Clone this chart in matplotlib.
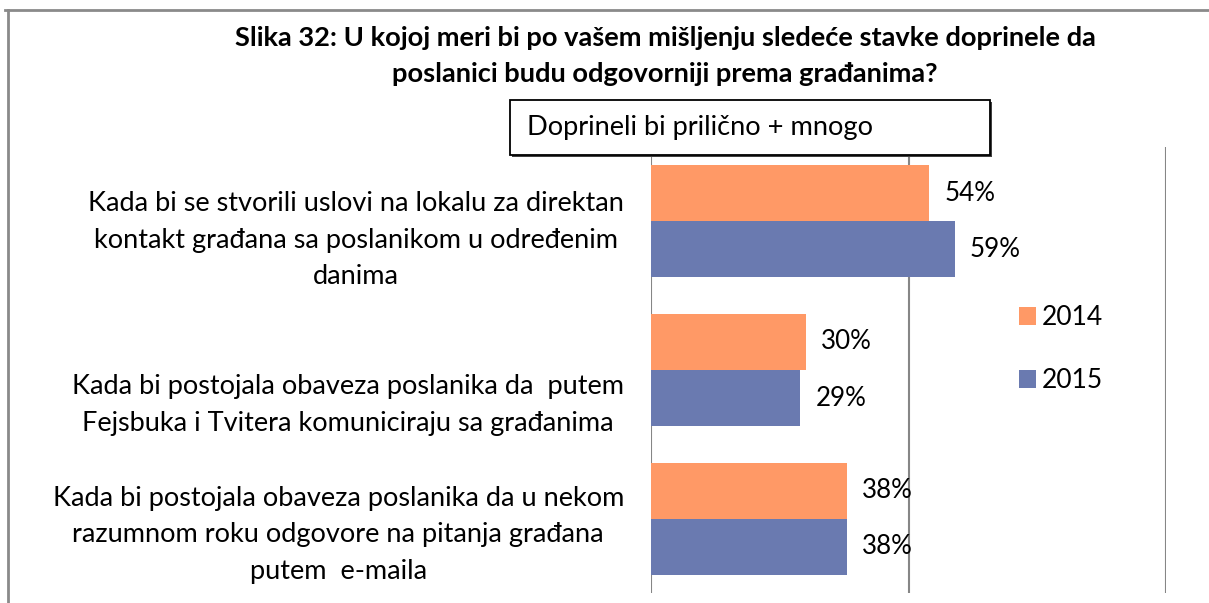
import matplotlib
matplotlib.use("Agg")
import matplotlib.pyplot as plt
from matplotlib.patches import Rectangle, Patch
from matplotlib.lines import Line2D

# ---- data ----
categories = [
    "Kada bi se stvorili uslovi na lokalu za direktan\nkontakt građana sa poslanikom u određenim\ndanima",
    "Kada bi postojala obaveza poslanika da  putem\nFejsbuka i Tvitera komuniciraju sa građanima",
    "Kada bi postojala obaveza poslanika da u nekom\nrazumnom roku odgovore na pitanja građana\nputem  e-maila",
]
series_names = ["2014", "2015"]
values_2014 = [54, 30, 38]
values_2015 = [59, 29, 38]
title = "Slika 32: U kojoj meri bi po vašem mišljenju sledeće stavke doprinele da\nposlanici budu odgovorniji prema građanima?"
box_text = "Doprineli bi prilično + mnogo"
gridlines = [50, 100]

# ---- style ----
W, H = 1209, 603
FONT = "Lato"
C14 = "#FF9966"
C15 = "#6A7AB0"
GRID = "#868686"

plt.rcParams["font.family"] = [FONT, "DejaVu Sans"]

fig = plt.figure(figsize=(W / 100, H / 100), dpi=100)
fig.patch.set_facecolor("white")

def fx(px):
    return px / W

def fy(py):
    return 1 - py / H

ax = fig.add_axes([fx(651), fy(593), fx(1166) - fx(651), fy(147) - fy(593)])
ax.set_xlim(0, 100)
ax.set_ylim(len(categories) - 0.5, -0.5)

h = 0.377
ypos = list(range(len(categories)))
b1 = ax.barh([y - h / 2 for y in ypos], values_2014, height=h, color=C14, label=series_names[0], zorder=2)
b2 = ax.barh([y + h / 2 for y in ypos], values_2015, height=h, color=C15, label=series_names[1], zorder=2)

for bars, vals in ((b1, values_2014), (b2, values_2015)):
    for rect, v in zip(bars, vals):
        ax.annotate(f"{v}%", xy=(rect.get_width(), rect.get_y() + rect.get_height() / 2),
                    xytext=(15, 0), textcoords="offset pixels", ha="left", va="center",
                    fontsize=18.7, color="black", zorder=3)

for g in gridlines:
    ax.axvline(g, color=GRID, lw=1.5, zorder=1)
ax.axvline(0, color=GRID, lw=1.5, zorder=1)

for s in ax.spines.values():
    s.set_visible(False)
ax.set_xticks([])
ax.set_yticks([])

# category labels (positioned left of the axis)
label_offsets = [19, 35, 16]
for i, (lab, off) in enumerate(zip(categories, label_offsets)):
    ax.annotate(lab, xy=(0, i), xycoords=("axes fraction", "data"),
                xytext=(-27, -off), textcoords="offset pixels",
                ha="right", va="center", multialignment="center",
                fontsize=19.5, linespacing=1.57, color="black",
                annotation_clip=False)

# title
fig.text(fx(665), fy(55.5), title, ha="center", va="center", fontsize=19.6,
         fontweight="bold", linespacing=1.6, multialignment="center")

# box with shadow
shadow = Rectangle((fx(512), fy(157)), fx(990) - fx(510), fy(100) - fy(155),
                   transform=fig.transFigure, facecolor="#404040", edgecolor="none", zorder=4)
box = Rectangle((fx(510), fy(155)), fx(990) - fx(510), fy(100) - fy(155),
                transform=fig.transFigure, facecolor="white", edgecolor="black", lw=1.3, zorder=5)
fig.add_artist(shadow)
fig.add_artist(box)
fig.text(fx(527), fy(128), box_text, ha="left", va="center", fontsize=19.6, zorder=6)

# outer frame lines
fig.add_artist(Line2D([fx(5), fx(1209)], [fy(10), fy(10)], color="#8a8a8a", lw=2, transform=fig.transFigure))
fig.add_artist(Line2D([fx(8), fx(8)], [fy(10), fy(603)], color="#8a8a8a", lw=2, transform=fig.transFigure))

# legend
handles = [Patch(facecolor=C14, edgecolor="none"), Patch(facecolor=C15, edgecolor="none")]
fig.legend(handles, series_names, loc="upper left", bbox_to_anchor=(fx(1019), fy(305)),
           frameon=False, fontsize=19, handlelength=0.65, handleheight=0.65,
           handletextpad=0.23, labelspacing=1.44, borderpad=0, borderaxespad=0)

fig.savefig("out.png", dpi=100)
